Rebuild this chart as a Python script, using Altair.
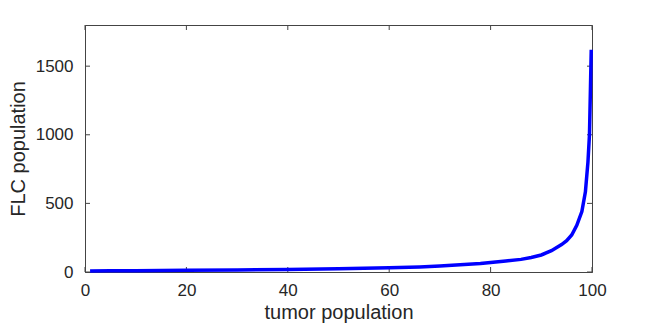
import altair as alt
import pandas as pd

tumor = [1, 5, 10, 20, 30, 40, 50, 60, 66, 70, 74, 78, 80, 83, 86, 88, 90, 92,
         94, 95, 96, 97, 98, 98.7, 99.2, 99.5, 99.7, 99.85]
flc = [8, 9, 10, 12, 15, 19, 24, 31, 37, 44, 52, 62, 70, 80, 92, 106, 124, 155,
       200, 228, 270, 340, 440, 584, 800, 1000, 1350, 1620]
x_ticks = [0, 20, 40, 60, 80, 100]
y_ticks = [0, 500, 1000, 1500]

W, H = 507, 247
df = pd.DataFrame({"tumor": tumor, "flc": flc})
xt = pd.DataFrame({"v": x_ticks})
yt = pd.DataFrame({"v": y_ticks})

xs = alt.Scale(domain=[0, 100], nice=False, zero=False)
ys = alt.Scale(domain=[0, 1800], nice=False)
font = "Liberation Sans"

line = alt.Chart(df).mark_line(color="#0000FF", strokeWidth=3.5).encode(
    x=alt.X("tumor:Q", scale=xs, axis=alt.Axis(
        title="tumor population", values=x_ticks, ticks=False, grid=False,
        format="d",
        domainColor="#444444", labelFontSize=17, titleFontSize=20,
        labelPadding=10, titlePadding=4, labelColor="#262626",
        titleColor="#262626", labelFont=font, titleFont=font,
        titleFontWeight="normal", labelFlush=False)),
    y=alt.Y("flc:Q", scale=ys, axis=alt.Axis(
        title="FLC population", values=y_ticks, ticks=False, grid=False,
        format="d",
        domainColor="#444444", labelFontSize=17, titleFontSize=20,
        labelPadding=12, titlePadding=7, labelColor="#262626",
        titleColor="#262626", labelFont=font, titleFont=font,
        titleFontWeight="normal", labelFlush=False)),
)

tick_color = "#444444"
bx = alt.Chart(xt).mark_rule(color=tick_color, strokeWidth=1).encode(
    x=alt.X("v:Q", scale=xs), y=alt.value(H), y2=alt.value(H - 5))
tx = alt.Chart(xt).mark_rule(color=tick_color, strokeWidth=1).encode(
    x=alt.X("v:Q", scale=xs), y=alt.value(0), y2=alt.value(5))
ly = alt.Chart(yt).mark_rule(color=tick_color, strokeWidth=1).encode(
    y=alt.Y("v:Q", scale=ys), x=alt.value(0), x2=alt.value(5))
ry = alt.Chart(yt).mark_rule(color=tick_color, strokeWidth=1).encode(
    y=alt.Y("v:Q", scale=ys), x=alt.value(W), x2=alt.value(W - 5))

chart = alt.layer(bx, tx, ly, ry, line).properties(
    width=W, height=H,
    autosize=alt.AutoSizeParams(type="none"),
    padding={"left": 77, "top": 17, "right": 40, "bottom": 54},
).configure_view(stroke="#444444", strokeWidth=1)

chart.save("out.html", embed_options={"renderer": "svg", "actions": False})
